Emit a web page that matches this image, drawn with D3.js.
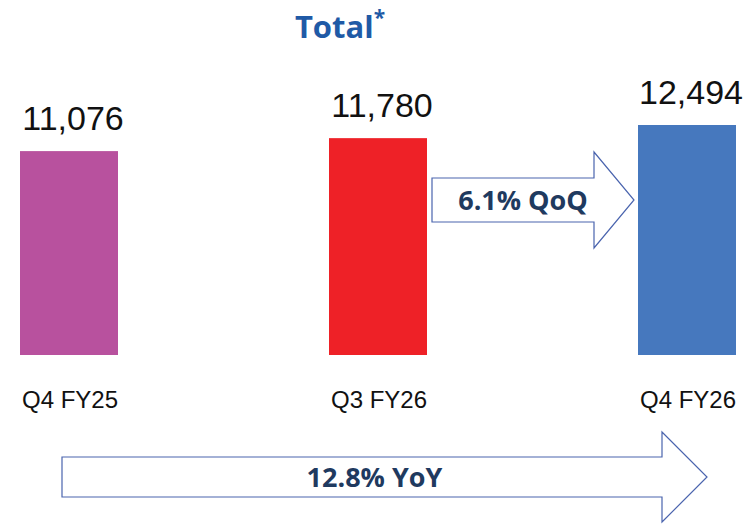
<!DOCTYPE html>
<html>
<head>
<meta charset="utf-8">
<script src="https://cdn.jsdelivr.net/npm/d3@7"></script>
<style>
  body { margin: 0; background: #fff; }
  text { font-family: "Liberation Sans", Arial, sans-serif; }
</style>
</head>
<body>
<svg id="chart" width="747" height="525"></svg>
<script>
// data
const categories = ["Q4 FY25", "Q3 FY26", "Q4 FY26"];
const values = [11076, 11780, 12494];
const barColors = ["#B8519E", "#EE2127", "#4678BE"];
const qoqLabel = "6.1% QoQ";
const yoyLabel = "12.8% YoY";

const svg = d3.select("#chart");
const barW = 98;

// x scale gives bar centres
const x = d3.scalePoint()
    .domain(categories)
    .range([69, 687]);

// y scale from zero
const y = d3.scaleLinear()
    .domain([0, 12494])
    .range([355, 125]);

// title
const title = svg.append("text")
    .attr("x", 340)
    .attr("y", 38)
    .attr("text-anchor", "middle")
    .style("font-family", "'Open Sans', sans-serif")
    .style("font-weight", "bold")
    .style("font-size", "31px")
    .style("fill", "#1F5AA6");
title.append("tspan").text("Total");
title.append("tspan").attr("dy", -13).style("font-size", "21px").text("*");

// bars
svg.selectAll("rect.bar")
    .data(values)
    .enter().append("rect")
    .attr("class", "bar")
    .attr("x", (d, i) => x(categories[i]) - barW / 2)
    .attr("y", d => y(d))
    .attr("width", barW)
    .attr("height", d => y(0) - y(d))
    .style("fill", (d, i) => barColors[i]);

// value labels
svg.selectAll("text.val")
    .data(values)
    .enter().append("text")
    .attr("class", "val")
    .attr("x", (d, i) => x(categories[i]) + 4)
    .attr("y", d => y(d) - 21)
    .attr("text-anchor", "middle")
    .style("font-size", "34px")
    .style("fill", "#111")
    .text(d => d3.format(",")(d));

// category labels
svg.selectAll("text.cat")
    .data(categories)
    .enter().append("text")
    .attr("class", "cat")
    .attr("x", d => x(d) + 1)
    .attr("y", 408)
    .attr("text-anchor", "middle")
    .style("font-size", "24px")
    .style("fill", "#111")
    .text(d => d);

// block arrow helper
function blockArrow(x0, x1, cy, bodyH, headH, headW, label) {
    const xh = x1 - headW;
    const pts = [
        [x0, cy - bodyH / 2], [xh, cy - bodyH / 2], [xh, cy - headH / 2],
        [x1, cy], [xh, cy + headH / 2], [xh, cy + bodyH / 2], [x0, cy + bodyH / 2]
    ];
    svg.append("path")
        .attr("d", d3.line()(pts) + "Z")
        .style("fill", "#fff")
        .style("stroke", "#4A64AE")
        .style("stroke-width", 1.2);
    svg.append("text")
        .attr("x", (x0 + x1) / 2 - 10)
        .attr("y", cy + 10)
        .attr("text-anchor", "middle")
        .style("font-family", "'Open Sans', sans-serif")
        .style("font-weight", "bold")
        .style("font-size", "27px")
        .style("fill", "#1F3A5F")
        .text(label);
}

// QoQ arrow between bar 2 and bar 3
blockArrow(x(categories[1]) + barW / 2 + 5, x(categories[2]) - barW / 2 - 4, 200, 44, 96, 40, qoqLabel);
// YoY arrow along the bottom
blockArrow(x(categories[0]) - 7, x(categories[2]) + 20, 477, 40, 90, 45, yoyLabel);
</script>
</body>
</html>
